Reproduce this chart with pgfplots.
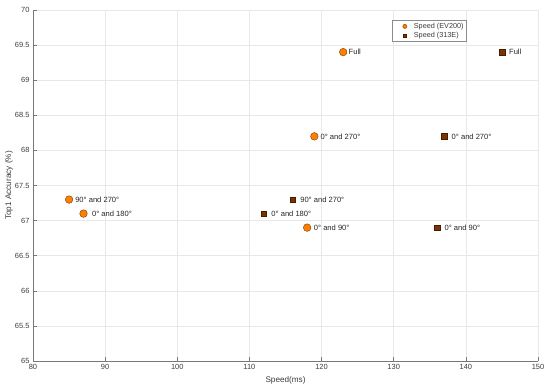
\documentclass[border=0pt]{standalone}
\usepackage{pgfplots}
\pgfplotsset{compat=1.18}
\usepackage{pgfplotstable}
\usepackage{fontspec}
\setmainfont{Liberation Sans}
\definecolor{evfill}{RGB}{255,128,0}
\definecolor{evedge}{RGB}{120,60,0}
\definecolor{tfill}{RGB}{128,51,0}
\definecolor{tedge}{RGB}{70,28,0}
\definecolor{gridc}{RGB}{232,232,232}
\definecolor{axc}{RGB}{120,120,120}
\definecolor{txt}{RGB}{60,60,60}

\pgfplotstableread[col sep=comma]{
x,y,dx,label
123,69.4,5.3,Full
119,68.2,6.0,0° and 270°
85,67.3,6.0,90° and 270°
87,67.1,8.4,0° and 180°
118,66.9,6.6,0° and 90°
}\evdata

\pgfplotstableread[col sep=comma]{
x,y,dx,label
145,69.4,7.0,Full
137,68.2,7.3,0° and 270°
116,67.3,7.4,90° and 270°
112,67.1,7.4,0° and 180°
136,66.9,7.4,0° and 90°
}\tedata

\begin{document}
\begin{tikzpicture}
\begin{axis}[
  scale only axis,
  width=505bp, height=351bp,
  xmin=80, xmax=150, ymin=65, ymax=70,
  xtick={80,90,...,150},
  ytick={65,65.5,...,70},
  yticklabel style={/pgf/number format/.cd, fixed, precision=1},
  /pgf/number format/assume math mode=true,
  axis x line*=bottom, axis y line*=left,
  axis line style={draw=axc, line width=0.5pt},
  tick align=inside,
  major tick length=4bp,
  tick style={draw=axc, line width=0.5pt},
  grid=major,
  major grid style={draw=gridc, line width=0.5pt},
  ticklabel style={font=\fontsize{7.5}{8.5}\selectfont, text=txt},
  xlabel={Speed(ms)},
  ylabel={Top1 Accuracy (\%)},
  label style={font=\fontsize{8.2}{9}\selectfont, text=txt},
  xlabel style={at={(rel axis cs:0.5,0)}, anchor=north, inner sep=0pt, yshift=-15bp},
  ylabel style={at={(rel axis cs:0,0.5)}, anchor=center, inner sep=0pt, yshift=24bp},
  legend style={
    at={(0.859,0.9715)}, anchor=north east,
    draw=black!45, fill=white, line width=0.4pt,
    font=\fontsize{7.3}{7.8}\selectfont, text=txt,
    inner xsep=1bp, inner ysep=0.8bp, row sep=-1.6bp,
    cells={anchor=west},
  },
  legend image code/.code={\path[draw=none,fill=none] (0bp,0bp) -- (19bp,0bp); \draw[#1] plot coordinates {(12bp,0bp)};},
  clip=false,
]
\addplot[only marks, mark=*, mark size=3.8bp,
  mark options={fill=evfill, draw=evedge, line width=0.4pt},
  legend image post style={mark size=2.1bp},
  point meta=explicit symbolic,
  visualization depends on={\thisrow{dx} \as \dx},
  nodes near coords,
  nodes near coords style={anchor=west, inner sep=0pt, xshift=\dx bp,
    font=\fontsize{7.6}{8.5}\selectfont, text=black!85},
] table[x=x, y=y, meta=label] {\evdata};
\addlegendentry{Speed (EV200)}
\addplot[only marks, mark=square*, mark size=2.8bp,
  mark options={fill=tfill, draw=tedge, line width=0.4pt},
  legend image post style={mark size=1.8bp},
  point meta=explicit symbolic,
  visualization depends on={\thisrow{dx} \as \dx},
  nodes near coords,
  nodes near coords style={anchor=west, inner sep=0pt, xshift=\dx bp,
    font=\fontsize{7.6}{8.5}\selectfont, text=black!85},
] table[x=x, y=y, meta=label] {\tedata};
\addlegendentry{Speed (313E)}
\coordinate (sw) at (rel axis cs:0,0);
\coordinate (ne) at (rel axis cs:1,1);
\end{axis}
\path ([shift={(-33bp,-29bp)}]sw) rectangle ([shift={(12bp,10bp)}]ne);
\end{tikzpicture}
\end{document}
